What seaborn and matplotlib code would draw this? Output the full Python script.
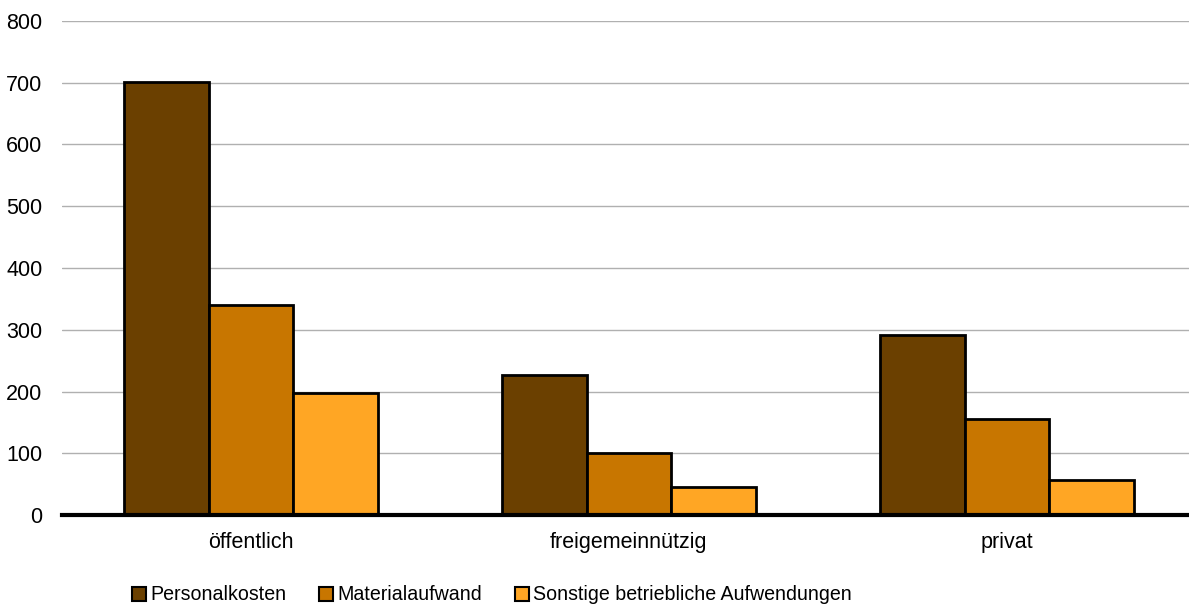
import matplotlib
matplotlib.use("Agg")
import matplotlib.pyplot as plt
import seaborn as sns
import pandas as pd
from matplotlib.patches import Patch

categories = ["öffentlich", "freigemeinnützig", "privat"]
series = ["Personalkosten", "Materialaufwand", "Sonstige betriebliche Aufwendungen"]
personal = [701, 226, 292]
material = [340, 101, 156]
sonstige = [197, 45, 56]
colors = ["#6B4000", "#C87600", "#FFA624"]
yticks = [0, 100, 200, 300, 400, 500, 600, 700, 800]

rows = []
for s, vals in zip(series, [personal, material, sonstige]):
    for c, v in zip(categories, vals):
        rows.append({"Kategorie": c, "Serie": s, "Wert": v})
df = pd.DataFrame(rows)

sns.set_style("white")
plt.rcParams["font.family"] = ["Liberation Sans", "DejaVu Sans"]

W, H = 1189, 608
fig = plt.figure(figsize=(W / 100, H / 100), dpi=100)
ax = fig.add_axes([62 / W, (H - 515) / H, (W - 62) / W, (515 - 21) / H])

sns.barplot(data=df, x="Kategorie", y="Wert", hue="Serie", order=categories,
            hue_order=series, palette=colors, width=0.67, edgecolor="black",
            linewidth=2, saturation=1, ax=ax, legend=False, zorder=3)

ax.set_ylim(0, 800)
ax.set_xlim(-0.5, -0.5 + (W - 62) / 378)
ax.set_yticks(yticks)
ax.set_yticklabels([str(t) for t in yticks])
ax.yaxis.grid(True, color="#B0B0B0", linewidth=1, zorder=0)
ax.set_axisbelow(True)
ax.tick_params(axis="both", length=0, labelsize=15.5, colors="black")
ax.tick_params(axis="y", pad=14)
ax.tick_params(axis="x", pad=12)
ax.set_xlabel("")
ax.set_ylabel("")
for sp in ["top", "right", "left"]:
    ax.spines[sp].set_visible(False)
ax.spines["bottom"].set_linewidth(3)
ax.spines["bottom"].set_color("black")
ax.spines["bottom"].set_zorder(5)

handles = [Patch(facecolor=c, edgecolor="black", linewidth=1.5, label=s) for c, s in zip(colors, series)]
fig.legend(handles=handles, loc="center", bbox_to_anchor=(492 / W, 1 - 595 / H), ncol=3,
           frameon=False, fontsize=14.1, handlelength=0.7, handleheight=0.7,
           handletextpad=0.2, columnspacing=1.7, labelcolor="black")

fig.savefig("out.png", dpi=100)
